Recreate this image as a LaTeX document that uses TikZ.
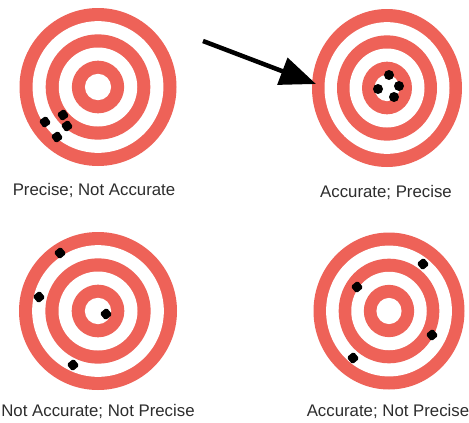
\documentclass[tikz,border=0pt]{standalone}
\usepackage{fontspec}
\setmainfont{Liberation Sans}
\usetikzlibrary{arrows.meta}
\definecolor{ringred}{RGB}{238,98,88}
\definecolor{labelgray}{RGB}{45,45,45}
\newcommand\bullseye[4]{%
  \foreach \k/\c in {6/ringred,5/white,4/ringred,3/white,2/ringred,1/white}{%
    \fill[\c] (#1,#2) ellipse[x radius={#3*\k/6}, y radius={#4*\k/6}];
  }%
}
\tikzset{
  shot/.style={rectangle, fill=black, minimum size=9pt, inner sep=0pt, rounded corners=1.8pt},
  blob/.style={circle, fill=black, minimum size=10pt, inner sep=0pt},
  lbl/.style={anchor=base, text=labelgray, font=\fontsize{16.8}{18}\selectfont, inner sep=0pt},
  bigarrow/.style={line width=4.5pt, -{Triangle[length=36pt,width=28pt]}}
}
\begin{document}
\begin{tikzpicture}[x=1pt,y=-1pt]
\useasboundingbox (0,0) rectangle (469,423);
\fill[white] (0,0) rectangle (469,423);
% targets
\coordinate (c1) at (98,87);
\coordinate (c2) at (387,88);
\coordinate (c3) at (98,311);
\coordinate (c4) at (389,311);
\bullseye{98}{87}{78.5}{79}
\bullseye{387}{88}{75}{79}
\bullseye{98}{311}{79}{79}
\bullseye{389}{311}{75.5}{78.5}
% shots target 1
\node[shot, rotate=35] (s11) at (45,122) {};
\node[shot, rotate=35] (s12) at (63,115) {};
\node[shot, rotate=35] (s13) at (67,126) {};
\node[shot, rotate=35] (s14) at (57,137) {};
% shots target 2
\node[blob] (s21) at (389,75) {};
\node[blob] (s22) at (378,89) {};
\node[blob] (s23) at (399,86) {};
\node[blob] (s24) at (394,97) {};
% shots target 3
\node[shot, rotate=40] (s31) at (60,253) {};
\node[shot, rotate=40] (s32) at (39,297) {};
\node[shot, rotate=40] (s33) at (106,314) {};
\node[shot, rotate=40] (s34) at (73,365) {};
% shots target 4
\node[shot, rotate=40] (s41) at (423,264) {};
\node[shot, rotate=40] (s42) at (357,287) {};
\node[shot, rotate=40] (s43) at (432,335) {};
\node[shot, rotate=40] (s44) at (353,358) {};
% arrow
\coordinate (atail) at (203,41);
\coordinate (atip) at (316,84);
\draw[bigarrow] (atail) -- (atip);
% labels
\node[lbl] (l1) at (94,195) {Precise; Not Accurate};
\node[lbl] (l2) at (386,197.5) {Accurate; Precise};
\node[lbl] (l3) at (98,416) {Not Accurate; Not Precise};
\node[lbl] (l4) at (388,416.5) {Accurate; Not Precise};
\end{tikzpicture}
\end{document}
